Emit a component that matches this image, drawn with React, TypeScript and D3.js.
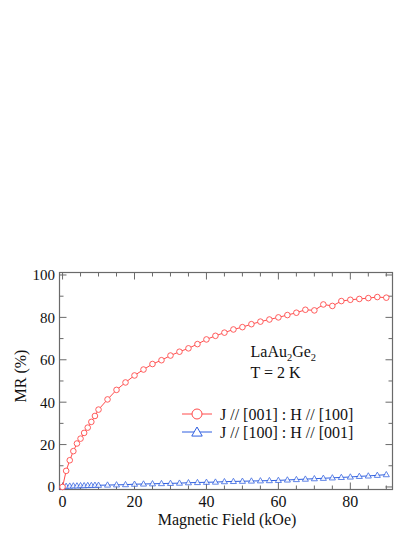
import React from 'react'
import * as d3 from 'd3'

// J // [001] : H // [100]
const fieldA = [0, 1, 2, 3, 4, 5, 6, 7, 8, 9, 10, 12.5, 15, 17.5, 20, 22.5, 25, 27.5, 30, 32.5, 35, 37.5, 40, 42.5, 45, 47.5, 50, 52.5, 55, 57.5, 60, 62.5, 65, 67.5, 70, 72.5, 75, 77.5, 80, 82.5, 85, 87.5, 90]
const mrA = [0, 7.6, 12.6, 16.9, 20.5, 22.8, 25.5, 28, 30.7, 33.5, 36.5, 41.3, 45.8, 49.3, 52.6, 55.4, 58, 59.8, 62, 63.8, 65.4, 67.4, 69.6, 71.3, 72.8, 74.3, 75.4, 76.8, 78, 79, 80, 81.1, 82.2, 83.6, 83.3, 86.1, 85.4, 87.7, 88.3, 88.7, 89.1, 89.6, 89.3]

// J // [100] : H // [001]
const fieldB = [0, 1, 2, 3, 4, 5, 6, 7, 8, 9, 10, 12.5, 15, 17.5, 20, 22.5, 25, 27.5, 30, 32.5, 35, 37.5, 40, 42.5, 45, 47.5, 50, 52.5, 55, 57.5, 60, 62.5, 65, 67.5, 70, 72.5, 75, 77.5, 80, 82.5, 85, 87.5, 90]
const mrB = [0, 0.3, 0.4, 0.5, 0.5, 0.6, 0.6, 0.7, 0.7, 0.8, 0.8, 0.9, 1.0, 1.1, 1.3, 1.4, 1.5, 1.6, 1.7, 1.8, 2.0, 2.1, 2.2, 2.3, 2.5, 2.6, 2.7, 2.8, 2.9, 3.0, 3.1, 3.3, 3.5, 3.7, 3.9, 4.1, 4.3, 4.5, 4.7, 5.0, 5.2, 5.5, 5.8]

const xTicks = [0, 20, 40, 60, 80]
const yTicks = [0, 20, 40, 60, 80, 100]
const legendLabels = ['J // [001] : H // [100]', 'J // [100] : H // [001]']

const RED = '#ff4b4b'
const BLUE = '#2f5fe0'
const AXIS = '#6a6a6a'
const FONT = 'Liberation Serif'

const App = () => {
  const left = 59.5, right = 392.5, top = 272.5, bottom = 489.5
  const x = d3.scaleLinear().domain([-0.85, 92]).range([left, right + 1])
  const y = d3.scaleLinear().domain([-1.2, 100.8]).range([bottom, top + 0.8])

  const line = d3.line<[number, number]>().x(d => x(d[0])).y(d => y(d[1]))
  const ptsA: [number, number][] = fieldA.map((f, i) => [f, mrA[i]])
  const ptsB: [number, number][] = fieldB.map((f, i) => [f, mrB[i]])

  const xMinor = d3.range(0, 91, 5)
  const yMinor = d3.range(0, 101, 10)

  const tri = (cx: number, cy: number, s: number) =>
    `M${cx},${cy - s}L${cx + s * 0.95},${cy + s * 0.65}L${cx - s * 0.95},${cy + s * 0.65}Z`

  return (
    <svg width={415} height={537} style={{ position: 'absolute', left: 0, top: 0 }} fontFamily={FONT}>
      <rect x={0} y={0} width={415} height={537} fill="white" />
      {/* frame */}
      <rect x={left} y={top} width={right - left} height={bottom - top} fill="none" stroke={AXIS} strokeWidth={1.2} />
      {/* x ticks */}
      {xMinor.map(t => {
        const len = t % 20 === 0 ? 7 : 4
        return (
          <g key={`xt${t}`} stroke={AXIS} strokeWidth={1}>
            <line x1={x(t)} x2={x(t)} y1={bottom} y2={bottom - len} />
            <line x1={x(t)} x2={x(t)} y1={top} y2={top + len} />
          </g>
        )
      })}
      {/* y ticks */}
      {yMinor.map(t => {
        const len = t % 20 === 0 ? 7 : 4
        return (
          <g key={`yt${t}`} stroke={AXIS} strokeWidth={1}>
            <line x1={left} x2={left + len} y1={y(t)} y2={y(t)} />
            <line x1={right} x2={right - len} y1={y(t)} y2={y(t)} />
          </g>
        )
      })}
      {/* tick labels */}
      <g fontSize={16} fill="#111">
        {xTicks.map(t => (
          <text key={`xl${t}`} x={x(t)} y={507} textAnchor="middle">{t}</text>
        ))}
      </g>
      <g fontSize={15} fill="#111">
        {yTicks.map(t => (
          <text key={`yl${t}`} x={55} y={y(t) + 5.5} textAnchor="end">{t}</text>
        ))}
      </g>
      {/* axis titles */}
      <text x={227} y={525} textAnchor="middle" fontSize={16} fill="#111">Magnetic Field (kOe)</text>
      <text transform={`translate(26,${376}) rotate(-90)`} textAnchor="middle" fontSize={16} fill="#111">MR (%)</text>

      {/* series */}
      <path d={line(ptsB) ?? ''} fill="none" stroke={BLUE} strokeWidth={1} />
      {ptsB.map((p, i) => (
        <path key={`b${i}`} d={tri(x(p[0]), y(p[1]), 3.2)} fill="white" stroke={BLUE} strokeWidth={0.9} opacity={0.85} />
      ))}
      <path d={line(ptsA) ?? ''} fill="none" stroke={RED} strokeWidth={1} />
      {ptsA.map((p, i) => (
        <circle key={`a${i}`} cx={x(p[0])} cy={y(p[1])} r={2.8} fill="white" stroke={RED} strokeWidth={0.9} />
      ))}

      {/* annotation */}
      <g fontSize={16} fill="#111">
        <text x={250.5} y={357}>LaAu<tspan fontSize={10.5} dy={4}>2</tspan><tspan dy={-4}>Ge</tspan><tspan fontSize={10.5} dy={4}>2</tspan></text>
        <text x={250.5} y={378}>T = 2 K</text>
      </g>

      {/* legend */}
      <g fontSize={16} fill="#111">
        <line x1={182} x2={212} y1={414} y2={414} stroke={RED} strokeWidth={1} />
        <circle cx={197} cy={414} r={5} fill="white" stroke={RED} strokeWidth={1} />
        <text x={220} y={419.5}>{legendLabels[0]}</text>
        <line x1={182} x2={212} y1={432} y2={432} stroke={BLUE} strokeWidth={1} />
        <path d={tri(197, 432.5, 5.5)} fill="white" stroke={BLUE} strokeWidth={1} />
        <text x={220} y={437.5}>{legendLabels[1]}</text>
      </g>
    </svg>
  )
}

export default App
